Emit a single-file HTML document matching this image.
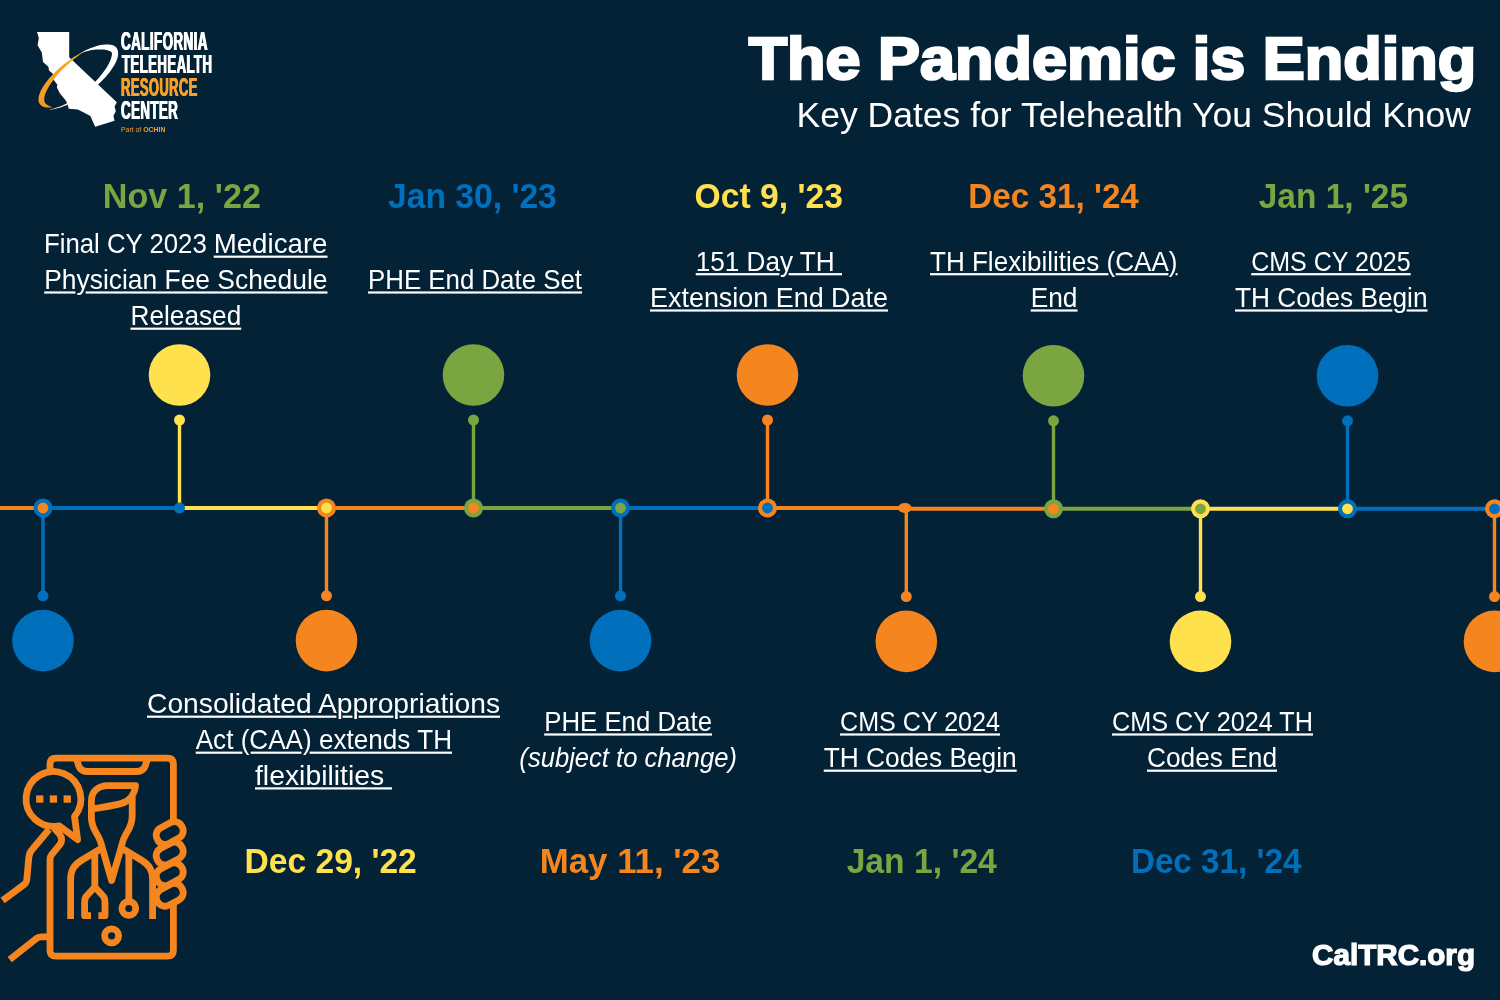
<!DOCTYPE html>
<html lang="en">
<head>
<meta charset="utf-8">
<title>The Pandemic is Ending - Key Dates for Telehealth You Should Know</title>
<style>
html,body{margin:0;padding:0;background:#042236;}
body{width:1500px;height:1000px;overflow:hidden;position:relative;font-family:"Liberation Sans",sans-serif;}
svg{position:absolute;left:0;top:0;display:block;}
text{white-space:pre;}
#wordmark div{position:absolute;white-space:nowrap;font:bold 25.1px/30.12px "Liberation Sans",sans-serif;transform-origin:0 0;letter-spacing:.7px;}
</style>
</head>
<body>
<svg width="1500" height="1000" viewBox="0 0 1500 1000">
<rect width="1500" height="1000" fill="#042236"/>
<g id="timeline"><line x1="0" y1="508" x2="43" y2="508" stroke="#F5851F" stroke-width="4"/>
<line x1="43" y1="508" x2="179.5" y2="508" stroke="#0070BC" stroke-width="4"/>
<line x1="179.5" y1="508" x2="326.5" y2="508" stroke="#FFE14D" stroke-width="4"/>
<line x1="326.5" y1="508" x2="473.5" y2="508" stroke="#F5851F" stroke-width="4"/>
<line x1="473.5" y1="508" x2="620.5" y2="508" stroke="#7AA540" stroke-width="4"/>
<line x1="620.5" y1="508" x2="767.5" y2="508" stroke="#0070BC" stroke-width="4"/>
<line x1="767.5" y1="508" x2="906.3" y2="508" stroke="#F5851F" stroke-width="4"/>
<line x1="906.3" y1="508.8" x2="1053.5" y2="508.8" stroke="#F5851F" stroke-width="4"/>
<line x1="1053.5" y1="508.8" x2="1200.5" y2="508.8" stroke="#7AA540" stroke-width="4"/>
<line x1="1200.5" y1="508.8" x2="1347.5" y2="508.8" stroke="#FFE14D" stroke-width="4"/>
<line x1="1347.5" y1="508.8" x2="1494.5" y2="508.8" stroke="#0070BC" stroke-width="4"/>
<line x1="1494.5" y1="508.8" x2="1500" y2="508.8" stroke="#F5851F" stroke-width="4"/>
<line x1="43" y1="508" x2="43" y2="595.8" stroke="#0070BC" stroke-width="3.4"/>
<circle cx="43" cy="595.8" r="5.5" fill="#0070BC"/>
<circle cx="43" cy="640.6" r="30.8" fill="#0070BC"/>
<circle cx="43" cy="508" r="9.5" fill="#0070BC"/>
<circle cx="43" cy="508" r="5.4" fill="#F5851F"/>
<line x1="179.5" y1="508" x2="179.5" y2="420" stroke="#FFE14D" stroke-width="3.4"/>
<circle cx="179.5" cy="420" r="5.5" fill="#FFE14D"/>
<circle cx="179.5" cy="375" r="30.8" fill="#FFE14D"/>
<circle cx="179.5" cy="508" r="5.5" fill="#0070BC"/>
<line x1="326.5" y1="508" x2="326.5" y2="595.8" stroke="#F5851F" stroke-width="3.4"/>
<circle cx="326.5" cy="595.8" r="5.5" fill="#F5851F"/>
<circle cx="326.5" cy="640.6" r="30.8" fill="#F5851F"/>
<circle cx="326.5" cy="508" r="9.5" fill="#F5851F"/>
<circle cx="326.5" cy="508" r="5.4" fill="#FFE14D"/>
<line x1="473.5" y1="508" x2="473.5" y2="420" stroke="#7AA540" stroke-width="3.4"/>
<circle cx="473.5" cy="420" r="5.5" fill="#7AA540"/>
<circle cx="473.5" cy="375" r="30.8" fill="#7AA540"/>
<circle cx="473.5" cy="508" r="9.5" fill="#7AA540"/>
<circle cx="473.5" cy="508" r="5.4" fill="#F5851F"/>
<line x1="620.5" y1="508" x2="620.5" y2="595.8" stroke="#0070BC" stroke-width="3.4"/>
<circle cx="620.5" cy="595.8" r="5.5" fill="#0070BC"/>
<circle cx="620.5" cy="640.6" r="30.8" fill="#0070BC"/>
<circle cx="620.5" cy="508" r="9.5" fill="#0070BC"/>
<circle cx="620.5" cy="508" r="5.4" fill="#7AA540"/>
<line x1="767.5" y1="508" x2="767.5" y2="420" stroke="#F5851F" stroke-width="3.4"/>
<circle cx="767.5" cy="420" r="5.5" fill="#F5851F"/>
<circle cx="767.5" cy="375" r="30.8" fill="#F5851F"/>
<circle cx="767.5" cy="508" r="9.5" fill="#F5851F"/>
<circle cx="767.5" cy="508" r="5.4" fill="#0070BC"/>
<line x1="906.3" y1="508.8" x2="906.3" y2="596.5999999999999" stroke="#F5851F" stroke-width="3.4"/>
<circle cx="906.3" cy="596.5999999999999" r="5.5" fill="#F5851F"/>
<circle cx="906.3" cy="641.4" r="30.8" fill="#F5851F"/>
<ellipse cx="904.8" cy="508.0" rx="6.8" ry="5" fill="#F5851F"/>
<line x1="1053.5" y1="508.8" x2="1053.5" y2="420.8" stroke="#7AA540" stroke-width="3.4"/>
<circle cx="1053.5" cy="420.8" r="5.5" fill="#7AA540"/>
<circle cx="1053.5" cy="375.8" r="30.8" fill="#7AA540"/>
<circle cx="1053.5" cy="508.8" r="9.5" fill="#7AA540"/>
<circle cx="1053.5" cy="508.8" r="5.4" fill="#F5851F"/>
<line x1="1200.5" y1="508.8" x2="1200.5" y2="596.5999999999999" stroke="#FFE14D" stroke-width="3.4"/>
<circle cx="1200.5" cy="596.5999999999999" r="5.5" fill="#FFE14D"/>
<circle cx="1200.5" cy="641.4" r="30.8" fill="#FFE14D"/>
<circle cx="1200.5" cy="508.8" r="9.5" fill="#FFE14D"/>
<circle cx="1200.5" cy="508.8" r="5.4" fill="#7AA540"/>
<line x1="1347.5" y1="508.8" x2="1347.5" y2="420.8" stroke="#0070BC" stroke-width="3.4"/>
<circle cx="1347.5" cy="420.8" r="5.5" fill="#0070BC"/>
<circle cx="1347.5" cy="375.8" r="30.8" fill="#0070BC"/>
<circle cx="1347.5" cy="508.8" r="9.5" fill="#0070BC"/>
<circle cx="1347.5" cy="508.8" r="5.4" fill="#FFE14D"/>
<line x1="1494.5" y1="508.8" x2="1494.5" y2="596.5999999999999" stroke="#F5851F" stroke-width="3.4"/>
<circle cx="1494.5" cy="596.5999999999999" r="5.5" fill="#F5851F"/>
<circle cx="1494.5" cy="641.4" r="30.8" fill="#F5851F"/>
<circle cx="1494.5" cy="508.8" r="9.5" fill="#F5851F"/>
<circle cx="1494.5" cy="508.8" r="5.4" fill="#0070BC"/></g>
<g id="labels" font-family="&quot;Liberation Sans&quot;, sans-serif"><text id="title" x="748.66" y="78.8" textLength="727.45" lengthAdjust="spacingAndGlyphs" style="font-size:59.6px;fill:#FFFFFF;font-weight:bold;stroke:#FFFFFF;stroke-width:2.5px;stroke-linejoin:miter;">The Pandemic is Ending</text>
<text id="sub" x="796.57" y="126.7" textLength="674.43" lengthAdjust="spacingAndGlyphs" style="font-size:35px;fill:#FFFFFF;">Key Dates for Telehealth You Should Know</text>
<text id="url" x="1312.05" y="965.4" textLength="162.94" lengthAdjust="spacingAndGlyphs" style="font-size:28.8px;fill:#FFFFFF;font-weight:bold;stroke:#FFFFFF;stroke-width:1.2px;stroke-linejoin:miter;">CalTRC.org</text>
<text id="d1" x="102.73" y="208.0" textLength="158.27" lengthAdjust="spacingAndGlyphs" style="font-size:34.9px;fill:#7AA540;font-weight:bold;">Nov 1, '22</text>
<text id="d2" x="388.00" y="208.0" textLength="168.79" lengthAdjust="spacingAndGlyphs" style="font-size:34.9px;fill:#0070BC;font-weight:bold;">Jan 30, '23</text>
<text id="d3" x="694.60" y="208.0" textLength="148.39" lengthAdjust="spacingAndGlyphs" style="font-size:34.9px;fill:#FFE14D;font-weight:bold;">Oct 9, '23</text>
<text id="d4" x="968.36" y="208.0" textLength="170.51" lengthAdjust="spacingAndGlyphs" style="font-size:34.9px;fill:#F5851F;font-weight:bold;">Dec 31, '24</text>
<text id="d5" x="1258.65" y="208.0" textLength="149.46" lengthAdjust="spacingAndGlyphs" style="font-size:34.9px;fill:#7AA540;font-weight:bold;">Jan 1, '25</text>
<text id="d6" x="244.60" y="873.0" textLength="172.18" lengthAdjust="spacingAndGlyphs" style="font-size:34.9px;fill:#FFE14D;font-weight:bold;">Dec 29, '22</text>
<text id="d7" x="539.69" y="873.0" textLength="180.67" lengthAdjust="spacingAndGlyphs" style="font-size:34.9px;fill:#F5851F;font-weight:bold;">May 11, '23</text>
<text id="d8" x="846.64" y="873.0" textLength="150.20" lengthAdjust="spacingAndGlyphs" style="font-size:34.9px;fill:#7AA540;font-weight:bold;">Jan 1, '24</text>
<text id="d9" x="1130.88" y="873.0" textLength="170.58" lengthAdjust="spacingAndGlyphs" style="font-size:34.9px;fill:#0070BC;font-weight:bold;">Dec 31, '24</text>
<text id="b1a" x="43.97" y="253" textLength="162.80" lengthAdjust="spacingAndGlyphs" style="font-size:27.9px;fill:#FFFFFF;">Final CY 2023</text>
<text id="b1b" x="213.70" y="253" textLength="113.80" lengthAdjust="spacingAndGlyphs" style="font-size:27.9px;fill:#FFFFFF;">Medicare</text>
<text id="b1c" x="44.20" y="288.8" textLength="283.30" lengthAdjust="spacingAndGlyphs" style="font-size:27.9px;fill:#FFFFFF;">Physician Fee Schedule</text>
<text id="b1d" x="130.50" y="325" textLength="110.70" lengthAdjust="spacingAndGlyphs" style="font-size:27.9px;fill:#FFFFFF;">Released</text>
<text id="b2" x="368.00" y="288.8" textLength="214.00" lengthAdjust="spacingAndGlyphs" style="font-size:27.9px;fill:#FFFFFF;">PHE End Date Set</text>
<text id="b3a" x="695.70" y="270.5" textLength="146.30" lengthAdjust="spacingAndGlyphs" style="font-size:27.9px;fill:#FFFFFF;">151 Day TH </text>
<text id="b3b" x="650.00" y="306.8" textLength="238.00" lengthAdjust="spacingAndGlyphs" style="font-size:27.9px;fill:#FFFFFF;">Extension End Date</text>
<text id="b4a" x="930.00" y="270.5" textLength="247.50" lengthAdjust="spacingAndGlyphs" style="font-size:27.9px;fill:#FFFFFF;">TH Flexibilities (CAA)</text>
<text id="b4b" x="1030.70" y="306.8" textLength="46.80" lengthAdjust="spacingAndGlyphs" style="font-size:27.9px;fill:#FFFFFF;">End</text>
<text id="b5a" x="1251.20" y="270.5" textLength="159.50" lengthAdjust="spacingAndGlyphs" style="font-size:27.9px;fill:#FFFFFF;">CMS CY 2025</text>
<text id="b5b" x="1235.00" y="306.8" textLength="192.50" lengthAdjust="spacingAndGlyphs" style="font-size:27.9px;fill:#FFFFFF;">TH Codes Begin</text>
<text id="b6a" x="147.00" y="713" textLength="353.00" lengthAdjust="spacingAndGlyphs" style="font-size:27.9px;fill:#FFFFFF;">Consolidated Appropriations</text>
<text id="b6b" x="195.70" y="749" textLength="256.30" lengthAdjust="spacingAndGlyphs" style="font-size:27.9px;fill:#FFFFFF;">Act (CAA) extends TH</text>
<text id="b6c" x="255.00" y="784.7" textLength="137.00" lengthAdjust="spacingAndGlyphs" style="font-size:27.9px;fill:#FFFFFF;">flexibilities </text>
<text id="b7a" x="544.20" y="730.8" textLength="167.80" lengthAdjust="spacingAndGlyphs" style="font-size:27.9px;fill:#FFFFFF;">PHE End Date</text>
<text id="b7b" x="519.36" y="767" textLength="217.69" lengthAdjust="spacingAndGlyphs" style="font-size:27.9px;fill:#FFFFFF;font-style:italic;">(subject to change)</text>
<text id="b8a" x="840.00" y="730.8" textLength="160.00" lengthAdjust="spacingAndGlyphs" style="font-size:27.9px;fill:#FFFFFF;">CMS CY 2024</text>
<text id="b8b" x="823.70" y="767" textLength="193.00" lengthAdjust="spacingAndGlyphs" style="font-size:27.9px;fill:#FFFFFF;">TH Codes Begin</text>
<text id="b9a" x="1112.00" y="730.8" textLength="201.00" lengthAdjust="spacingAndGlyphs" style="font-size:27.9px;fill:#FFFFFF;">CMS CY 2024 TH</text>
<text id="b9b" x="1147.00" y="767" textLength="130.00" lengthAdjust="spacingAndGlyphs" style="font-size:27.9px;fill:#FFFFFF;">Codes End</text>
<g id="underlines" fill="#FFFFFF"><rect x="213.7" y="255.6" width="113.8" height="2.2"/><rect x="44.2" y="291.4" width="31.2" height="2.2"/><rect x="85.6" y="291.4" width="241.9" height="2.2"/><rect x="130.5" y="327.6" width="110.7" height="2.2"/><rect x="368.0" y="291.4" width="214.0" height="2.2"/><rect x="695.7" y="273.1" width="83.7" height="2.2"/><rect x="788.6" y="273.1" width="53.4" height="2.2"/><rect x="650.0" y="309.4" width="238.0" height="2.2"/><rect x="930.0" y="273.1" width="178.4" height="2.2"/><rect x="1115.6" y="273.1" width="52.8" height="2.2"/><rect x="1175.6" y="273.1" width="1.9" height="2.2"/><rect x="1030.7" y="309.4" width="46.8" height="2.2"/><rect x="1251.2" y="273.1" width="159.5" height="2.2"/><rect x="1235.0" y="309.4" width="157.4" height="2.2"/><rect x="1406.6" y="309.4" width="20.9" height="2.2"/><rect x="147.0" y="715.6" width="189.4" height="2.2"/><rect x="342.6" y="715.6" width="9.8" height="2.2"/><rect x="358.6" y="715.6" width="34.8" height="2.2"/><rect x="399.6" y="715.6" width="100.4" height="2.2"/><rect x="195.7" y="751.6" width="46.7" height="2.2"/><rect x="250.6" y="751.6" width="50.8" height="2.2"/><rect x="309.6" y="751.6" width="142.4" height="2.2"/><rect x="255.0" y="787.3" width="137.0" height="2.2"/><rect x="544.2" y="733.4" width="167.8" height="2.2"/><rect x="840.0" y="733.4" width="160.0" height="2.2"/><rect x="823.7" y="769.6" width="157.7" height="2.2"/><rect x="995.6" y="769.6" width="21.1" height="2.2"/><rect x="1112.0" y="733.4" width="201.0" height="2.2"/><rect x="1147.0" y="769.6" width="130.0" height="2.2"/></g></g>
<g id="telehealth-icon" fill="none" stroke="#F5851F" stroke-width="6.8" stroke-linejoin="round" stroke-linecap="butt"><path d="M50,771 V764.2 Q50,758.2 56,758.2 H167.4 Q173.4,758.2 173.4,764.2 V822"/>
<path d="M173.4,903 V950.2 Q173.4,956.2 167.4,956.2 H56 Q50,956.2 50,950.2 V859 Q50,857 51.3,855.2 L60,844.4 Q63.6,839.4 59.4,834 L54,828"/>
<path d="M49,829.5 L32.6,849 Q29.2,852.6 28.8,857.5 L26.8,879.5 Q26.5,883 23.8,884.8 L2.6,900.5"/>
<path d="M9.7,959.6 L36.6,938.3 Q38.6,936.9 41.5,936.9 H50"/>
<path d="M76.8,758.2 C78,766.5 80,771.5 87.5,771.5 H136.5 C144,771.5 146,766.5 147.2,758.2"/>
<path d="M74.5,816.5 A27.4,27.4 0 1 0 59,825.8 L77.6,839.6 Z"/>
<path d="M91.4,812 V801 C91.4,791 98.5,785.6 108,785.6 H135.5 C134.5,795 129,801.5 121,803.6 C113,805.7 102,807.5 91.4,809"/>
<path d="M91.4,806 V818 C91.4,826 95,831 98,836 C101,841 101.5,845 102.6,849 L111.6,880.5 L120.8,849 C121.8,845 122.3,840 126,834 C129,829 132.2,825 132.2,816 V797"/>
<path d="M101.2,848.5 L82,860 C74,864.8 70.6,870 70.6,879.5 V919"/>
<path d="M122.2,848.5 L141.2,860 C149.2,864.8 152.6,870 152.6,879.5 V919"/>
<path d="M94.8,852.5 V887 L86.3,896.2 C85,897.8 84.6,900 84.6,903 V915.7 H91"/>
<path d="M94.8,887 L103.3,896.2 C104.6,897.8 105,900 105,903 V915.7 H98.4"/>
<path d="M128.8,852.5 V901.5"/>
<circle cx="128.8" cy="908.4" r="6.9"/>
<circle cx="111.6" cy="935.8" r="7"/>
<rect x="155.8" y="824.2" width="27.8" height="17.6" rx="8.2" transform="rotate(-28 169.7 833.0)"/>
<rect x="155.8" y="844.8" width="27.8" height="17.6" rx="8.2" transform="rotate(-28 169.7 853.6)"/>
<rect x="155.8" y="865.4" width="27.8" height="17.6" rx="8.2" transform="rotate(-28 169.7 874.2)"/>
<rect x="155.8" y="886.0" width="27.8" height="17.6" rx="8.2" transform="rotate(-28 169.7 894.8)"/></g><g fill="#F5851F"><rect x="36.1" y="795.4" width="7.3" height="7.3"/><rect x="49.8" y="795.4" width="7.3" height="7.3"/><rect x="63.6" y="795.4" width="7.3" height="7.3"/></g>
<g id="logo"><path d="M77.0,55.0 L79.8,53.4 L82.6,51.9 L85.3,50.5 L88.1,49.3 L90.7,48.1 L93.4,47.2 L95.9,46.3 L98.4,45.6 L100.7,45.1 L103.0,44.7 L105.1,44.4 L107.1,44.4 L108.9,44.4 L110.6,44.7 L112.2,45.1 L113.6,45.6 L114.8,46.3 L115.8,47.1 L116.7,48.1 L117.3,49.2 L117.8,50.5 L118.1,51.9 L118.2,53.4 L118.1,55.0 L117.8,56.7 L117.3,58.5 L116.6,60.4 L115.7,62.4 L114.7,64.5 L113.4,66.6 L112.0,68.7 L110.5,70.9 L108.8,73.2 L106.9,75.4 L104.9,77.7 L102.7,79.9 L100.5,82.2 L98.1,84.4 L95.6,86.6 L93.1,88.7 L90.5,90.8 L87.8,92.8 L85.1,94.7 L82.3,96.6 L79.5,98.3 L76.7,100.0 L73.9,101.5 L71.1,103.0 L68.4,104.3 L65.7,105.5 L63.0,106.5 L60.5,107.4 L58.0,108.1 L55.6,108.7 L53.3,109.2 L51.1,109.5 L49.1,109.6 L47.1,109.6 L45.4,109.4 L43.8,109.1 L43.8,109.1 L45.4,109.4 L47.2,109.5 L49.1,109.4 L51.1,109.1 L53.2,108.7 L55.4,108.1 L57.7,107.3 L60.1,106.4 L62.6,105.4 L65.1,104.2 L67.7,102.8 L70.3,101.4 L73.0,99.8 L75.6,98.1 L78.2,96.3 L80.8,94.4 L83.4,92.4 L86.0,90.3 L88.5,88.2 L90.9,86.0 L93.2,83.7 L95.5,81.5 L97.6,79.2 L99.6,76.9 L101.5,74.6 L103.3,72.3 L104.9,70.1 L106.4,67.9 L107.7,65.8 L108.8,63.7 L109.7,61.8 L110.5,59.9 L111.1,58.2 L111.5,56.7 L111.8,55.4 L111.9,54.2 L111.9,53.3 L111.7,52.7 L111.6,52.3 L111.4,52.0 L111.3,51.9 L111.2,51.9 L111.1,51.7 L110.7,51.6 L110.2,51.3 L109.4,50.9 L108.4,50.6 L107.1,50.2 L105.5,49.8 L103.7,49.6 L101.6,49.4 L99.3,49.4 L96.9,49.5 L94.3,49.7 L91.5,50.1 L88.7,50.7 L85.8,51.4 L82.8,52.4 L79.9,53.6 L77.0,55.0Z" fill="#FFFFFF"/>
<path d="M37,32 L69.2,32 L69.2,57.2 L116.8,102.2 L114.6,106.4 L115.8,111.2 L113.4,116 L114.6,120.8 L95.2,126.8 L93,122 L90.4,116 L83.8,112.4 L77.8,109.6 L68.8,108.8 L67,102.8 L65.2,99.8 L59.8,93.2 L56.8,87.2 L57.4,84.8 L53.8,80 L53.2,74 L49,70.4 L48.4,66.8 L43,62 L41.8,52.4 L37.6,45.2 L38.8,38Z" fill="#FFFFFF"/>
<defs><linearGradient id="og" gradientUnits="userSpaceOnUse" x1="40" y1="100" x2="95" y2="47"><stop offset="0" stop-color="#F59B24"/><stop offset="0.6" stop-color="#F7A61E"/><stop offset="1" stop-color="#FBC016"/></linearGradient></defs>
<path d="M52.3,107.3 L51.0,107.4 L49.8,107.5 L48.5,107.5 L47.4,107.5 L46.3,107.4 L45.3,107.2 L44.3,107.0 L43.4,106.7 L42.6,106.4 L41.9,105.9 L41.2,105.5 L40.6,104.9 L40.0,104.3 L39.6,103.7 L39.2,103.0 L38.9,102.2 L38.7,101.4 L38.5,100.5 L38.5,99.6 L38.5,98.7 L38.6,97.7 L38.8,96.6 L39.0,95.5 L39.3,94.4 L39.8,93.2 L40.2,92.0 L40.8,90.8 L41.4,89.5 L42.2,88.2 L42.9,86.9 L43.8,85.5 L44.7,84.2 L45.7,82.8 L46.7,81.4 L47.9,80.0 L49.0,78.6 L50.3,77.2 L51.6,75.7 L52.9,74.3 L54.3,72.9 L55.7,71.5 L57.2,70.1 L58.7,68.7 L60.3,67.3 L61.9,66.0 L63.5,64.6 L65.2,63.3 L66.9,62.0 L68.6,60.7 L70.3,59.5 L72.1,58.3 L73.8,57.1 L75.6,56.0 L77.4,54.9 L79.1,53.9 L80.9,52.9 L82.7,51.9 L84.4,51.0 L86.2,50.1 L87.9,49.3 L87.9,49.3 L86.2,50.3 L84.6,51.3 L82.9,52.4 L81.3,53.6 L79.6,54.7 L78.0,55.9 L76.3,57.2 L74.7,58.5 L73.1,59.8 L71.5,61.1 L69.9,62.5 L68.3,63.9 L66.8,65.3 L65.3,66.7 L63.8,68.2 L62.3,69.6 L60.9,71.1 L59.5,72.6 L58.2,74.1 L56.9,75.5 L55.7,77.0 L54.5,78.5 L53.4,79.9 L52.3,81.4 L51.3,82.8 L50.4,84.2 L49.5,85.6 L48.7,86.9 L47.9,88.2 L47.2,89.5 L46.6,90.7 L46.1,91.9 L45.6,93.1 L45.2,94.1 L44.9,95.1 L44.6,96.1 L44.4,96.9 L44.3,97.7 L44.2,98.4 L44.2,99.0 L44.2,99.5 L44.3,99.9 L44.3,100.2 L44.4,100.4 L44.5,100.6 L44.5,100.7 L44.5,100.8 L44.5,101.0 L44.4,101.3 L44.5,101.7 L44.7,102.1 L44.9,102.7 L45.4,103.3 L45.9,103.9 L46.7,104.5 L47.5,105.1 L48.6,105.7 L49.7,106.3 L51.0,106.8 L52.3,107.3Z" fill="url(#og)"/></g>
</svg>
<div id="wordmark"><div id="w1" style="left:121.00px;top:25.64px;color:#FFFFFF;transform:scaleX(0.5369);text-shadow:0.75px 0 0 #FFFFFF,-0.75px 0 0 #FFFFFF">CALIFORNIA</div><div id="w2" style="left:121.75px;top:48.64px;color:#FFFFFF;transform:scaleX(0.5285);text-shadow:0.75px 0 0 #FFFFFF,-0.75px 0 0 #FFFFFF">TELEHEALTH</div><div id="w3" style="left:121.00px;top:71.94px;color:#F7A128;transform:scaleX(0.5188);text-shadow:0.75px 0 0 #F7A128,-0.75px 0 0 #F7A128">RESOURCE</div><div id="w4" style="left:121.00px;top:95.34px;color:#FFFFFF;transform:scaleX(0.5330);text-shadow:0.75px 0 0 #FFFFFF,-0.75px 0 0 #FFFFFF">CENTER</div><div id="w5" style="left:120.6px;top:124.71px;color:#F7A128;font-size:7.7px;line-height:9.24px;font-weight:normal;letter-spacing:0;transform:scaleX(0.895)">Part of <b>OCHIN</b></div></div>
</body>
</html>
